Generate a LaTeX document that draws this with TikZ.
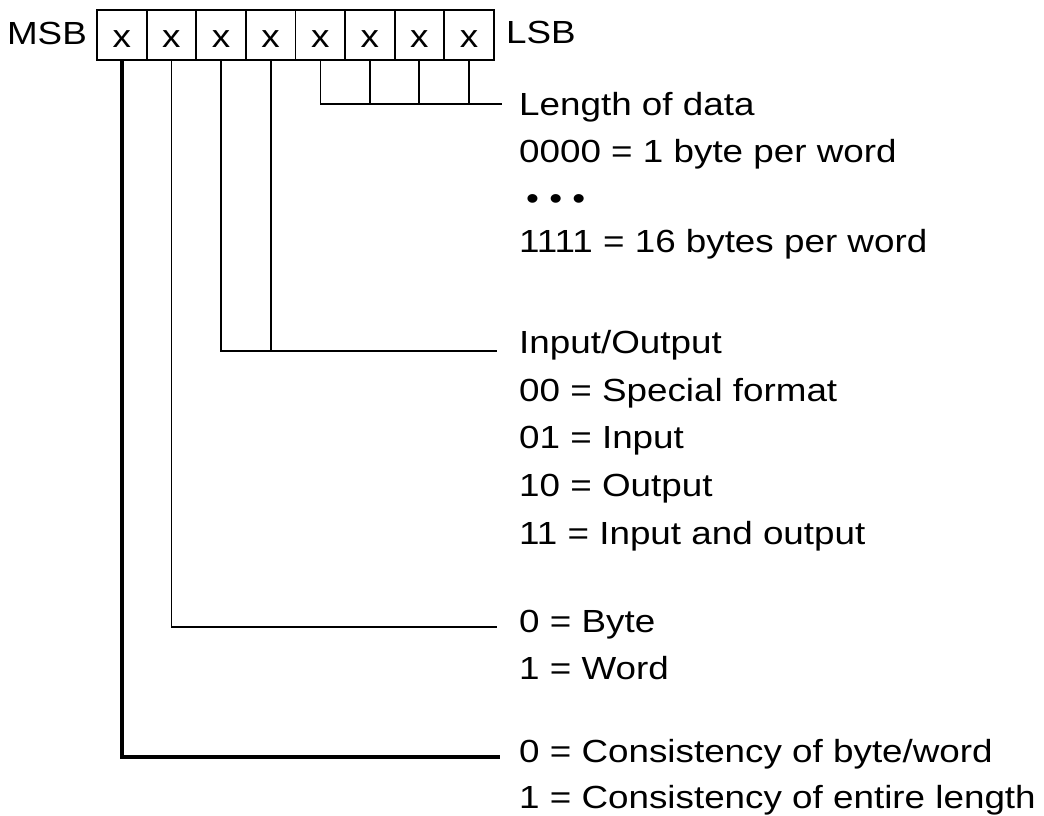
\documentclass[tikz,border=0pt]{standalone}
\usepackage{fontspec}
\setmainfont{Liberation Sans}[FakeStretch=1.15]
\begin{document}
\begin{tikzpicture}[x=1pt,y=-1pt,
  lab/.style={anchor=base west, inner sep=0pt, font=\fontsize{32}{38}\selectfont},
  cell/.style={draw, line width=1.8pt, minimum width=49.6pt, minimum height=50pt, inner sep=0pt,
    text height=26pt, text depth=0pt, font=\fontsize{32}{38}\selectfont},
  wthick/.style={line width=3.4pt},
  wmid/.style={line width=1.9pt},
  wthin/.style={line width=1.1pt}]
\useasboundingbox (0,0) rectangle (1044,816);
% register
\foreach \i/\b in {0/7,1/6,2/5,3/4,4/3,5/2,6/1,7/0}{
  \node[cell] (b\b) at ({97+24.8+49.6*\i},35) {x};
}
\node[lab, anchor=base east] (msb) at (87,45) {MSB};
\node[lab] (lsb) at (506,44) {LSB};
% labels
\node[lab] (len)  at (519,115) {Length of data};
\node[lab] (len0) at (519,162) {0000 = 1 byte per word};
\node[lab] (dots) at (526,209) {• • •};
\node[lab] (len1) at (519,252) {1111 = 16 bytes per word};
\node[lab] (io)   at (519,353) {Input/Output};
\node[lab] (io0)  at (519,401) {00 = Special format};
\node[lab] (io1)  at (519,448) {01 = Input};
\node[lab] (io2)  at (519,496) {10 = Output};
\node[lab] (io3)  at (519,544) {11 = Input and output};
\node[lab] (bw0)  at (519,632) {0 = Byte};
\node[lab] (bw1)  at (519,679) {1 = Word};
\node[lab] (cs0)  at (519,762) {0 = Consistency of byte/word};
\node[lab] (cs1)  at (519,808) {1 = Consistency of entire length};
% connector ends
\coordinate (eLen) at (502,104);
\coordinate (eIO) at (497,351);
\coordinate (eBW) at (497,627);
\coordinate (eCS) at (500,757);
% length of data (bits 3..0)
\draw[wthin] (b3.south) |- (eLen);
\draw[wmid] (b2.south) -- (b2.south |- eLen);
\draw[wmid] (b1.south) -- (b1.south |- eLen);
\draw[wmid] (b0.south) -- (b0.south |- eLen);
% input/output (bits 5,4)
\draw[wthin] (b5.south) |- (eIO);
\draw[wmid] (b4.south) -- (b4.south |- eIO);
% byte/word (bit 6)
\draw[wthin] (b6.south) |- (eBW);
% consistency (bit 7)
\draw[wthick] (b7.south) |- (eCS);
\end{tikzpicture}
\end{document}
